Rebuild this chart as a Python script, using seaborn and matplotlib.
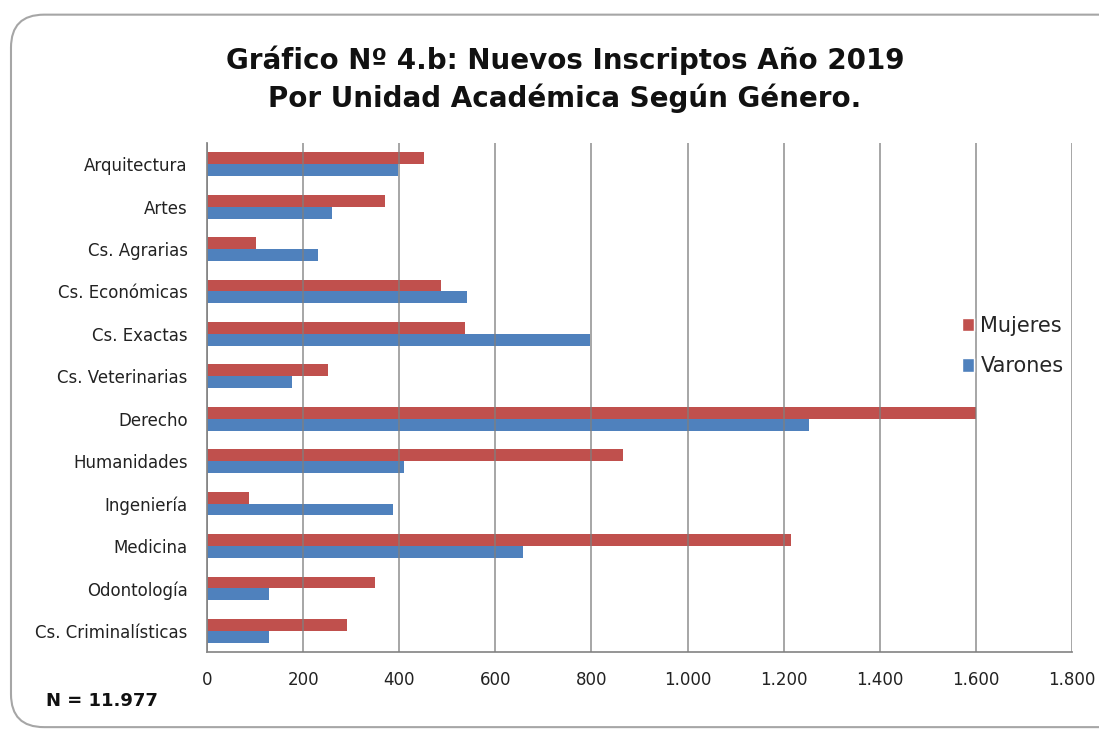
import pandas as pd
import matplotlib.pyplot as plt
import seaborn as sns
from matplotlib.patches import FancyBboxPatch, Patch
from matplotlib.ticker import FuncFormatter, MultipleLocator

# Valores (Nuevos inscriptos 2019)
unidades = ['Arquitectura', 'Artes', 'Cs. Agrarias', 'Cs. Económicas', 'Cs. Exactas',
            'Cs. Veterinarias', 'Derecho', 'Humanidades', 'Ingeniería', 'Medicina',
            'Odontología', 'Cs. Criminalísticas']
mujeres = [451, 370, 101, 486, 536, 251, 1600, 865, 87, 1216, 350, 291]
varones = [397, 261, 231, 541, 796, 176, 1252, 409, 386, 657, 128, 128]
generos = ['Mujeres', 'Varones']
colores = ['#C0504D', '#4F81BD']

df = pd.DataFrame({'Unidad': unidades, 'Mujeres': mujeres, 'Varones': varones})
df = df.melt(id_vars='Unidad', var_name='Genero', value_name='Inscriptos')

sns.set_style('white')
plt.rcParams['font.family'] = ['DejaVu Sans']

fig = plt.figure(figsize=(10.99, 7.33), dpi=100)
ax = fig.add_axes([0.1884, 0.1105, 0.787, 0.6944])

sns.barplot(data=df, x='Inscriptos', y='Unidad', hue='Genero', hue_order=generos,
            order=unidades, palette=colores, orient='h', width=0.56, saturation=1,
            linewidth=0, legend=False, ax=ax)

ax.set_xlim(0, 1800)
ax.set_ylim(11.5, -0.5)
ax.xaxis.set_major_locator(MultipleLocator(200))
ax.xaxis.set_major_formatter(FuncFormatter(lambda v, p: f'{int(v):,}'.replace(',', '.')))
ax.set_xlabel('')
ax.set_ylabel('')

# marcas del eje y entre categorias, estilo Excel
ax.set_yticks([i - 0.5 for i in range(13)], minor=True)
ax.tick_params(axis='y', which='major', length=0, labelsize=12, pad=14, labelcolor='#222222')
ax.tick_params(axis='y', which='minor', length=5, color='#8c8c8c', width=1.2)
ax.tick_params(axis='x', which='major', length=6, color='#8c8c8c', width=1.2,
               labelsize=12, pad=8, labelcolor='#222222')
ax.xaxis.grid(True, color='#7f7f7f', lw=1.3, alpha=0.75)
ax.set_axisbelow(False)
for s in ['top', 'right']:
    ax.spines[s].set_visible(False)
for s in ['left', 'bottom']:
    ax.spines[s].set_color('#8c8c8c')
    ax.spines[s].set_linewidth(1.3)

# leyenda a la derecha
handles = [Patch(facecolor=c, label=g) for c, g in zip(colores, generos)]
fig.legend(handles=handles, loc='center left', bbox_to_anchor=(0.858, 0.528), frameon=False,
           fontsize=15, handlelength=0.6, handleheight=0.6, handletextpad=0.3, labelspacing=1.0)

# titulo
fig.text(0.514, 0.918, 'Gráfico Nº 4.b: Nuevos Inscriptos Año 2019', ha='center', va='center',
         fontsize=20, fontweight='bold', color='#111111')
fig.text(0.514, 0.866, 'Por Unidad Académica Según Género.', ha='center', va='center',
         fontsize=20, fontweight='bold', color='#111111')

fig.text(0.042, 0.043, 'N = 11.977', ha='left', va='center', fontsize=13, fontweight='bold',
         color='#111111')

# marco redondeado
marco = FancyBboxPatch((0.010, 0.008), 1.2, 0.972, boxstyle='round,pad=0,rounding_size=0.03',
                       transform=fig.transFigure, facecolor='none', edgecolor='#a6a6a6',
                       lw=1.5, mutation_aspect=1.5)
fig.patches.append(marco)

fig.savefig('out.png', dpi=100)
